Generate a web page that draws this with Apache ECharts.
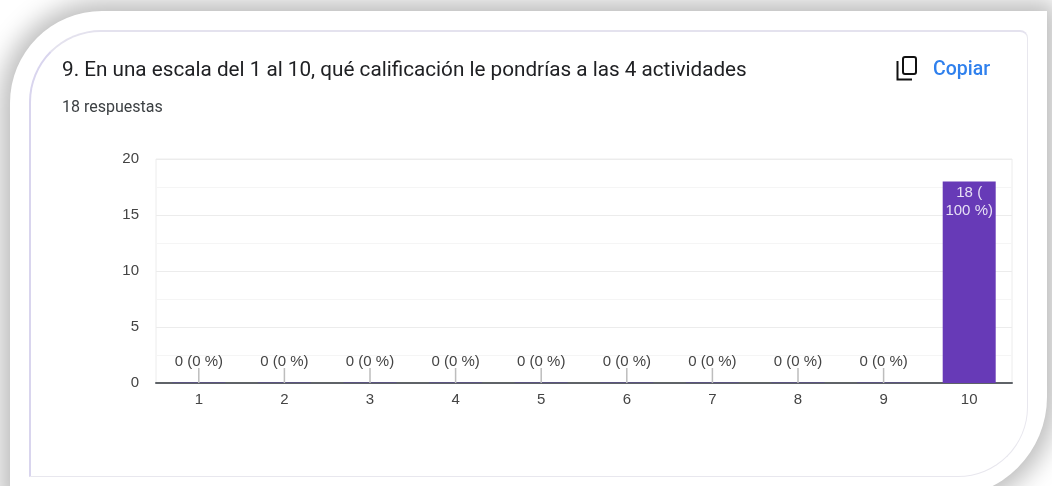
<!DOCTYPE html>
<html>
<head>
<meta charset="utf-8">
<script src="https://cdn.jsdelivr.net/npm/echarts@6/dist/echarts.min.js"></script>
<style>
  html, body { margin: 0; padding: 0; background: #fff; }
  #page { position: relative; width: 1052px; height: 486px; overflow: hidden; background: #fff; }
  #card { position: absolute; left: 10px; top: 11px; width: 1037px; height: 486px; background: #fff; border-radius: 92px 0 100px 0; box-shadow: 0 0 24px 10px rgba(0, 0, 0, 0.26); }
  #inner { position: absolute; left: 29px; top: 30px; width: 999px; height: 447px; box-sizing: border-box; border: 1px solid #e8e7ee; border-left: 2px solid #d9d5ee; border-top: 2px solid #e4e2ee; border-radius: 72px 8px 70px 0; }
  #chart { position: absolute; left: 0; top: 0; width: 1052px; height: 486px; }
</style>
</head>
<body>
<div id="page">
  <div id="card"></div>
  <div id="inner"></div>
  <div id="chart"></div>
</div>
<script>
const categories = ['1', '2', '3', '4', '5', '6', '7', '8', '9', '10'];
const counts = [0, 0, 0, 0, 0, 0, 0, 0, 0, 18];
const percents = [0, 0, 0, 0, 0, 0, 0, 0, 0, 100];
const titleText = '9. En una escala del 1 al 10, qué calificación le pondrías a las 4 actividades';
const subText = '18 respuestas';
const copyText = 'Copiar';

const myChart = echarts.init(document.getElementById('chart'));
myChart.setOption({
  animation: false,
  backgroundColor: 'transparent',
  title: [
    { text: titleText, left: 57, top: 55, textStyle: { fontFamily: 'Roboto', fontSize: 20.7, fontWeight: 'normal', color: '#202124' } },
    { text: subText, left: 57, top: 95, textStyle: { fontFamily: 'Roboto', fontSize: 16, fontWeight: 'normal', color: '#3c4043' } },
    { text: copyText, left: 928, top: 55, textStyle: { fontFamily: 'Roboto', fontSize: 19.5, fontWeight: 500, color: '#2f80ed' } }
  ],
  grid: { show: true, borderColor: '#ececec', borderWidth: 1, left: 156, right: 40, top: 159, bottom: 103 },
  xAxis: {
    type: 'category',
    data: categories,
    axisTick: { show: false },
    axisLine: { lineStyle: { color: '#5f6368', width: 2 } },
    axisLabel: { fontFamily: 'Liberation Sans', fontSize: 15, color: '#444', margin: 9 }
  },
  yAxis: {
    type: 'value',
    min: 0,
    max: 20,
    interval: 5,
    axisLine: { show: false },
    axisTick: { show: false },
    axisLabel: { fontFamily: 'Liberation Sans', fontSize: 15, color: '#444', margin: 17 },
    splitLine: { show: true, lineStyle: { color: '#ececec', width: 1 } },
    minorTick: { show: false, splitNumber: 2 },
    minorSplitLine: { show: true, lineStyle: { color: '#f5f5f5', width: 1 } }
  },
  series: [
    {
      // leader lines above the empty bars
      type: 'custom',
      silent: true,
      z: 3,
      data: counts.map((v, i) => [i, v]),
      renderItem: (params, api) => {
        if (api.value(1) > 0) return null;
        const p = api.coord([api.value(0), api.value(1)]);
        return {
          type: 'line',
          shape: { x1: p[0], y1: p[1], x2: p[0], y2: p[1] - 15 },
          style: { stroke: '#bdbdbd', lineWidth: 1.5 }
        };
      }
    },
    {
      type: 'bar',
      data: counts.map((v, i) => ({
        value: v,
        itemStyle: { color: v > 0 ? '#673ab7' : '#5b5480' },
        label: v > 0
          ? { position: 'insideTop', distance: 2, color: '#e6dff5', lineHeight: 18.5, formatter: v + ' (\n' + percents[i] + ' %)' }
          : { position: 'top', distance: 13, color: '#444', formatter: v + ' (' + percents[i] + ' %)' }
      })),
      barWidth: 53,
      barMinHeight: 1,
      label: { show: true, fontFamily: 'Liberation Sans', fontSize: 15 }
    }
  ],
  graphic: [
    // copy icon
    { type: 'rect', shape: { x: 903, y: 57, width: 13, height: 17, r: 2 }, style: { fill: 'none', stroke: '#111', lineWidth: 2 } },
    { type: 'polyline', shape: { points: [[897.5, 61], [897.5, 79.5], [912, 79.5]] }, style: { fill: 'none', stroke: '#111', lineWidth: 2 } }
  ]
});
</script>
</body>
</html>
